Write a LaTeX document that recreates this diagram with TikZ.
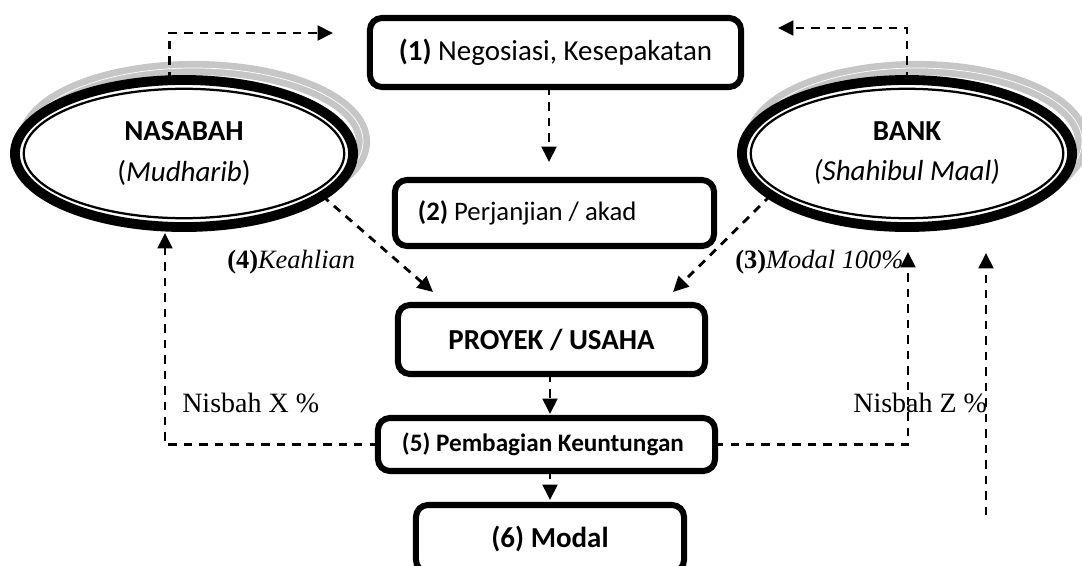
\documentclass[tikz,border=0pt]{standalone}
\usepackage{fontspec}
\setmainfont{Carlito}
\newfontfamily\timesfont{Liberation Serif}
\usetikzlibrary{shapes.geometric,arrows.meta,positioning}

\begin{document}
\begin{tikzpicture}[
    x=0.025cm, y=-0.025cm,
    box/.style={draw, line width=4.3pt, rounded corners=0.3cm, fill=white, inner sep=0pt, outer sep=0pt, font=\fontsize{20.6}{24}\selectfont},
    party/.style={ellipse, draw, line width=7pt, fill=white, inner sep=0pt, outer sep=0pt, minimum height=3.675cm, align=center, font=\fontsize{20.6}{28.5}\selectfont},
    ring/.style={line width=1.6pt},
    shade/.style={gray!45, line width=10pt},
    flow/.style={line width=2pt, dash pattern=on 6pt off 5pt, -{Triangle[length=11pt,width=10.5pt]}},
    note/.style={font=\timesfont\fontsize{18.8}{22}\selectfont, anchor=base west, inner sep=0pt},
    share/.style={font=\timesfont\fontsize{19.9}{23}\selectfont, anchor=base west, inner sep=0pt}
]
\useasboundingbox (0,0) rectangle (1082,565);
\clip (0,0) rectangle (1082,565);

% shadows behind the two parties
\draw[shade] (194,141.5) ellipse[x radius=4.225cm, y radius=1.8375cm];
\draw[white, line width=0.5pt] (194,141.5) ellipse[x radius=4.225cm, y radius=1.8375cm];
\draw[shade] (917,141.5) ellipse[x radius=4.125cm, y radius=1.8375cm];
\draw[white, line width=0.5pt] (917,141.5) ellipse[x radius=4.125cm, y radius=1.8375cm];

% parties
\node[party, minimum width=8.45cm] (nasabah) at (184,153.5) {\textbf{NASABAH}\\(\textit{Mudharib})};
\node[party, minimum width=8.25cm] (bank) at (907,153.5) {\textbf{BANK}\\\textit{(Shahibul Maal)}};
\draw[ring] (nasabah.center) ellipse[x radius=4.005cm, y radius=1.6175cm];
\draw[ring] (bank.center) ellipse[x radius=3.905cm, y radius=1.6175cm];

% steps
\node[box, minimum width=9.275cm, minimum height=1.725cm] (nego) at (555.5,52.5) {\textbf{(1)} Negosiasi, Kesepakatan};
\node[box, minimum height=1.65cm, text width=6.825cm, inner xsep=0.575cm, align=flush left, font=\fontsize{19}{23}\selectfont] (akad) at (554.5,213) {\textbf{(2)} Perjanjian / akad};
\node[box, minimum width=7.675cm, minimum height=1.725cm] (usaha) at (551.5,339.5) {\textbf{PROYEK / USAHA}};
\node[box, minimum height=1.325cm, text width=7.225cm, inner xsep=0.6cm, align=flush left, font=\fontsize{17.9}{21}\selectfont] (bagi) at (546.5,444.5) {\textbf{(5) Pembagian Keuntungan}};
\node[box, minimum width=6.7cm, minimum height=1.675cm] (modal) at (550,538.5) {\textbf{(6) Modal}};

% free ends of the connectors
\coordinate (nego-in-l) at (333,33);
\coordinate (nego-in-r) at (778,28);
\coordinate (akad-in) at (549,162);
\coordinate (skill-in) at (433,292);
\coordinate (fund-in) at (673,292);
\coordinate (usaha-out) at (550,414);
\coordinate (bagi-out) at (550,500);
\coordinate (nisbah-x) at (165,233);
\coordinate (nisbah-z) at (908,252);
\coordinate (return-foot) at (986,515);
\coordinate (return-tip) at (986,253);

% connectors
\draw[flow] (nasabah.101.5) |- (nego-in-l);
\draw[flow] (bank.north) |- (nego-in-r);
\draw[flow] (nego.south -| akad-in) -- (akad-in);
\draw[flow] (nasabah.343.5) -- (skill-in);
\draw[flow] (bank.197.4) -- (fund-in);
\draw[flow] (usaha.south -| usaha-out) -- (usaha-out);
\draw[flow] (bagi.south -| bagi-out) -- (bagi-out);
\draw[flow] (bagi.west) -| (nisbah-x);
\draw[flow] (bagi.east) -| (nisbah-z);
\draw[flow] (return-foot) -- (return-tip);

% labels
\node[note] (skill) at (227,268) {\textbf{(4)}\textit{Keahlian}};
\node[note] (fund) at (735,268) {\textbf{(3)}\textit{Modal 100\%}};
\node[share] (share-x) at (182,412) {Nisbah X \%};
\node[share] (share-z) at (853,412) {Nisbah Z \%};
\end{tikzpicture}
\end{document}
